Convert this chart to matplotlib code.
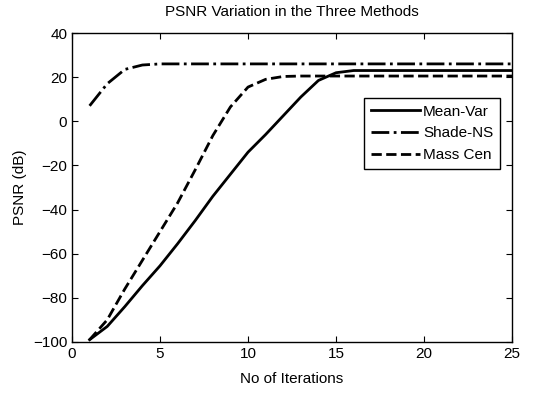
import numpy as np
import matplotlib
matplotlib.use('Agg')
import matplotlib.pyplot as plt

plt.rcParams['font.family'] = ['Liberation Sans', 'DejaVu Sans']

iterations = np.arange(1, 26)
mean_var = [-99, -93, -84, -74.5, -65.5, -55.5, -45, -34, -24, -14, -6, 2.5, 11, 18.5,
            22, 23, 23, 23, 23, 23, 23, 23, 23, 23, 23]
shade_ns = [7, 17, 23.5, 25.5, 26, 26, 26, 26, 26, 26, 26, 26, 26, 26,
            26, 26, 26, 26, 26, 26, 26, 26, 26, 26, 26]
mass_cen = [-99, -90, -76, -63, -50, -37, -22, -6.5, 6.5, 15.5, 19, 20.3, 20.5, 20.5,
            20.5, 20.5, 20.5, 20.5, 20.5, 20.5, 20.5, 20.5, 20.5, 20.5, 20.5]
labels = ['Mean-Var', 'Shade-NS', 'Mass Cen']

fig = plt.figure(figsize=(5.56, 3.93), dpi=100)
ax = fig.add_axes([0.1295, 0.130, 0.7915, 0.786])

ax.plot(iterations, mean_var, color='black', lw=2.0, linestyle='-')
ax.plot(iterations, shade_ns, color='black', lw=2.0, linestyle='-.')
ax.plot(iterations, mass_cen, color='black', lw=2.0, linestyle='--')

ax.set_xlim(0, 25)
ax.set_ylim(-100, 40)
ax.set_xticks(range(0, 26, 5))
ax.set_yticks(range(-100, 41, 20))
ax.tick_params(direction='in', top=True, right=True, labelsize=11, length=4)
for s in ax.spines.values():
    s.set_linewidth(1.0)

ax.set_xlabel('No of Iterations', fontsize=11, labelpad=8)
ax.set_ylabel('PSNR (dB)', fontsize=11)
ax.set_title('PSNR Variation in the Three Methods', fontsize=11, pad=12)

leg = ax.legend(labels, loc='upper right', bbox_to_anchor=(0.99, 0.815),
                fontsize=11, handlelength=3.2, handletextpad=0.2,
                borderpad=0.45, labelspacing=0.5, fancybox=False, framealpha=1)
leg.get_frame().set_edgecolor('black')
leg.get_frame().set_linewidth(1.0)

plt.savefig('out.png', dpi=100)
